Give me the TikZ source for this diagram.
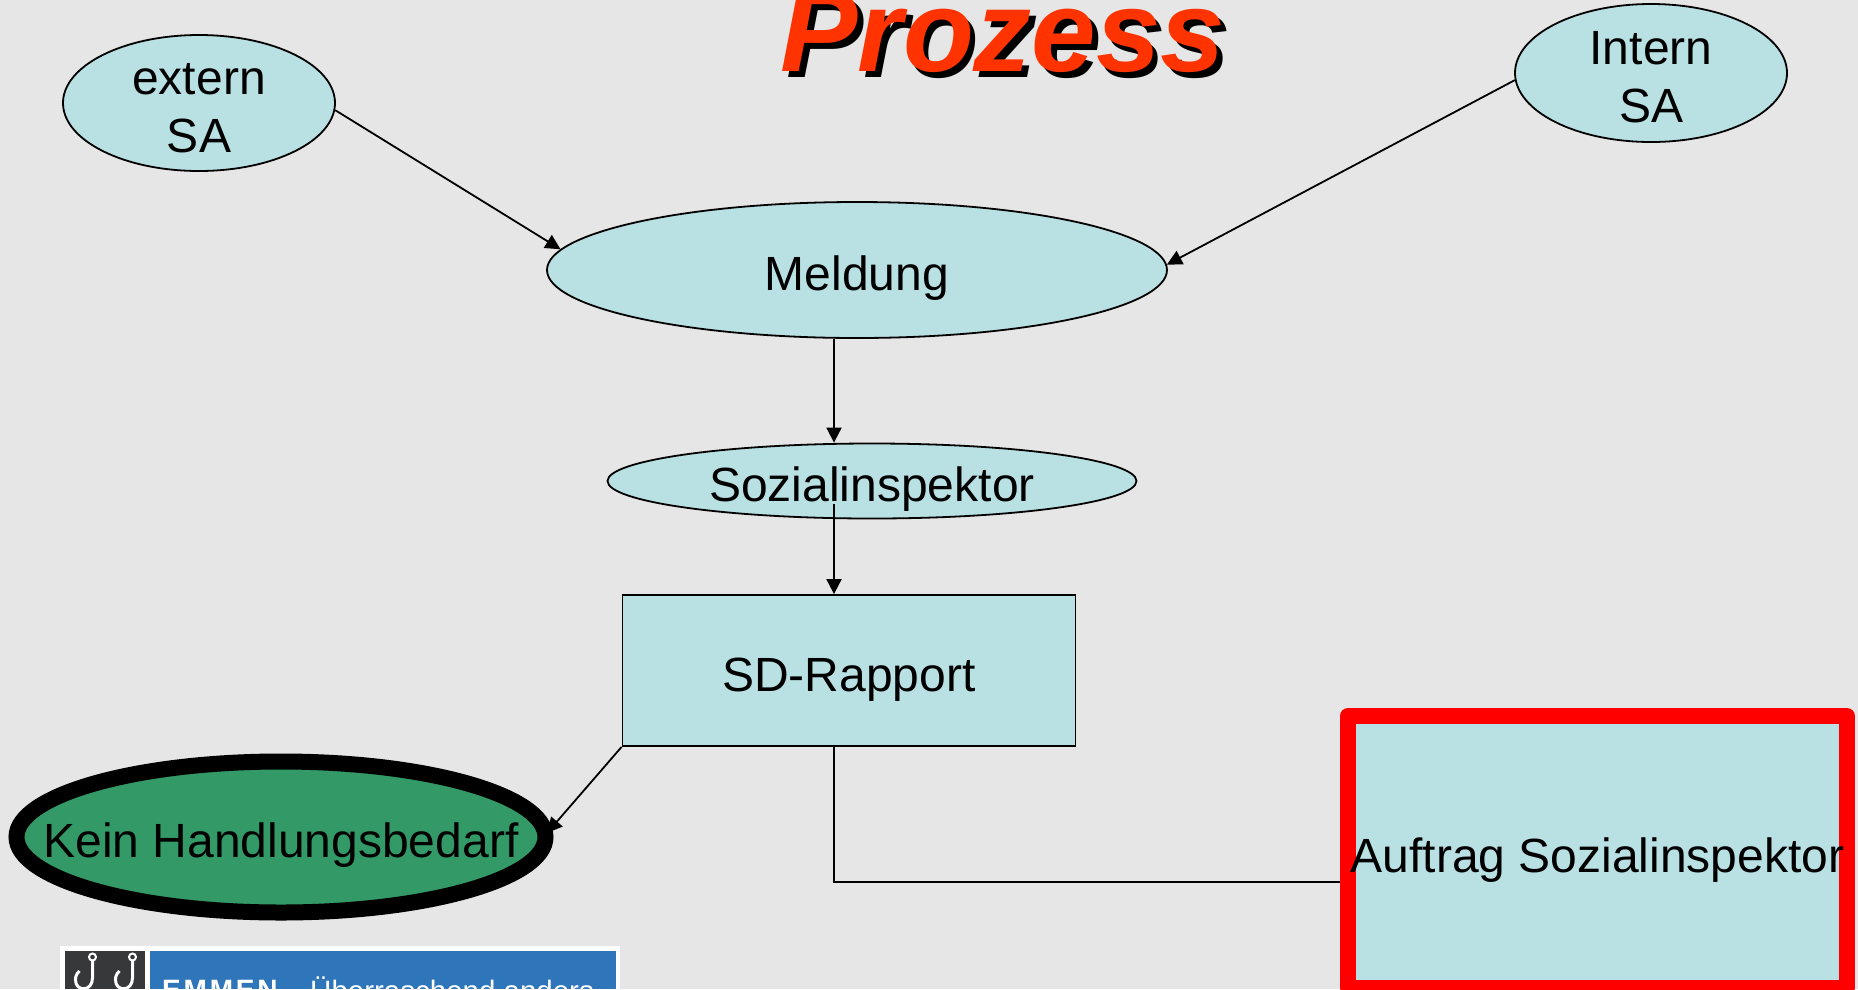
\documentclass[tikz,border=0pt]{standalone}
\usepackage{fontspec}
\setmainfont{Liberation Sans}
\usetikzlibrary{shapes.geometric,arrows.meta}
\definecolor{slidegrey}{HTML}{E6E6E6}
\definecolor{bubblecyan}{HTML}{B9E0E3}
\definecolor{keingreen}{HTML}{339966}
\definecolor{titlered}{HTML}{FF3300}
\definecolor{logoblue}{HTML}{2E75BA}
\definecolor{logodark}{HTML}{37383A}
\def\flattext#1{\raisebox{-.32em}[0pt][0pt]{\makebox[0pt]{\begin{tabular}{@{}c@{}}#1\end{tabular}}}}
\def\hook#1{\draw[white, line width=3pt] (#1, 960) -- (#1, 978) .. controls (#1, 992) and (#1-17, 992) .. (#1-17, 980) .. controls (#1-17, 976) and (#1-16, 974) .. (#1-13, 971);
	\draw[white, line width=2pt] (#1, 957) circle (3.5);}
\tikzset{
	bubble/.style={draw, ellipse, fill=bubblecyan, line width=1.8pt, inner sep=0pt},
	panel/.style={draw, rectangle, fill=bubblecyan, inner sep=0pt},
	arrowline/.style={-{Triangle[length=15pt,width=15pt]}, line width=1.8pt},
	plainline/.style={line width=1.8pt},
	titletext/.style={font=\fontsize{116}{120}\selectfont\bfseries\itshape}
}

\begin{document}
\begin{tikzpicture}[x=1pt, y=-1pt, font=\fontsize{48}{58}\selectfont]
	%%%%% START %%%%%
	\clip (0, 0) rectangle (1858, 989);
	\fill[slidegrey] (0, 0) rectangle (1858, 989);
	
	\node[titletext, text=black] (titleshadow) at (1008.5, 38) {Prozess};
	\node[titletext, text=titlered] (title) at (1003, 32.5) {Prozess};
	
	\node[bubble, minimum width=272pt, minimum height=136pt] (extern) at (199, 103) {\flattext{extern\\SA}};
	\node[bubble, minimum width=272pt, minimum height=138pt] (intern) at (1651, 73) {\flattext{Intern\\SA}};
	\node[bubble, minimum width=620pt, minimum height=136pt] (meldung) at (857, 270) {\flattext{Meldung}};
	\node[bubble, minimum width=529pt, minimum height=75pt] (sozial) at (872, 481) {\flattext{Sozialinspektor}};
	\node[panel, line width=1.8pt, minimum width=453pt, minimum height=151pt] (rapport) at (849, 670.5) {\flattext{SD-Rapport}};
	
	\coordinate (axis) at (834, 0);
	\coordinate (sozialstart) at (834, 504);
	\coordinate (knee) at (834, 882);
	
	\draw[arrowline] (extern.-3) -- (meldung.176);
	\draw[arrowline] (intern.183) -- (meldung.1.8);
	\draw[arrowline] (meldung.south -| axis) -- (sozial.north -| axis);
	\draw[arrowline] (sozialstart) -- (rapport.north -| axis);
	
	\node[bubble, line width=16pt, fill=keingreen, minimum width=529pt, minimum height=151pt] (kein) at (281, 837) {\flattext{Kein Handlungsbedarf}};
	\draw[arrowline, shorten >=-7pt] (rapport.south west) -- (kein.2);
	
	\node[panel, draw=red, line width=16pt, line join=round, minimum width=499pt, minimum height=272pt] (auftrag) at (1597.5, 852) {\flattext{Auftrag Sozialinspektor}};
	\draw[plainline] (rapport.south -| axis) -- (knee) -- (knee -| auftrag.west);
	
	\fill[white] (60, 946) rectangle (620, 989);
	\fill[logodark] (65, 951) rectangle (145, 989);
	\fill[logoblue] (150, 951) rectangle (616, 989);
	\hook{92.5}
	\hook{132.5}
	\node[anchor=base west, font=\fontsize{28}{30}\selectfont\bfseries\addfontfeature{LetterSpace=10}, text=white, inner sep=0pt] (emmen) at (162, 999) {EMMEN};
	\node[anchor=base west, font=\fontsize{29.5}{30}\selectfont, text=white, inner sep=0pt] (slogan) at (310, 1001) {Überraschend anders};
	
	%%%%% END %%%%%
\end{tikzpicture}
\end{document}
